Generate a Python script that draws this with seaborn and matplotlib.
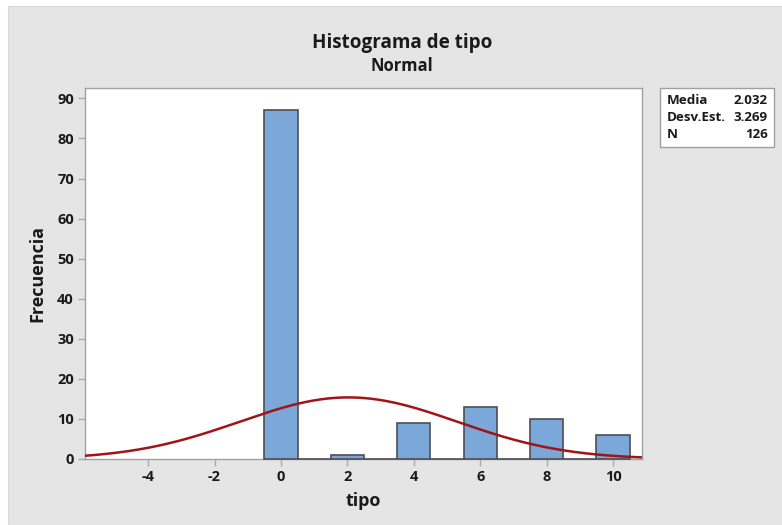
import numpy as np
import pandas as pd
import seaborn as sns
import matplotlib
matplotlib.use("Agg")
import matplotlib.pyplot as plt
from matplotlib.patches import Rectangle

# Observed values of "tipo" and how many times each occurs
tipo_values = [0, 2, 4, 6, 8, 10]
tipo_counts = [87, 1, 9, 13, 10, 6]

x_ticks = [-4, -2, 0, 2, 4, 6, 8, 10]
y_ticks = [0, 10, 20, 30, 40, 50, 60, 70, 80, 90]

sns.set_theme(style="white")
plt.rcParams["font.family"] = ["Open Sans", "DejaVu Sans"]

df = pd.DataFrame({"tipo": np.repeat(tipo_values, tipo_counts)})
n = len(df)
mean = df["tipo"].mean()
sd = df["tipo"].std(ddof=1)

fig = plt.figure(figsize=(7.82, 5.25), dpi=100, facecolor="white")
fig.patches.append(Rectangle((8 / 782, 0), 1, 1 - 6 / 525, transform=fig.transFigure,
                             facecolor="#e5e5e5", edgecolor="#d8d8d8", lw=0.8, zorder=-10))

ax = fig.add_axes([85 / 782, 1 - 459 / 525, (642 - 85) / 782, (459 - 88) / 525])
ax.set_facecolor("white")

sns.histplot(data=df, x="tipo", binwidth=1, binrange=(-0.5, 10.5), ax=ax,
             color="#7ba7d9", alpha=1, edgecolor="#4d4d55", linewidth=1.2)
for p in ax.patches:
    p.set_zorder(3)
    p.set_clip_on(False)

# Fitted normal curve scaled to counts (bin width 1)
xs = np.linspace(-6, 11, 400)
ys = n * 1.0 * np.exp(-0.5 * ((xs - mean) / sd) ** 2) / (sd * np.sqrt(2 * np.pi))
ax.plot(xs, ys, color="#a01418", lw=1.8, zorder=4)

ax.set_xlim(-5.9, 10.87)
ax.set_ylim(0, 92.6)
ax.set_xticks(x_ticks)
ax.set_xticklabels([str(t) for t in x_ticks])
ax.set_yticks(y_ticks)
ax.tick_params(axis="both", which="both", direction="out", length=5, width=1,
               color="#aaaaaa", labelsize=10.5, pad=3, bottom=True, left=True)
for lab in ax.get_xticklabels() + ax.get_yticklabels():
    lab.set_fontweight("bold")
    lab.set_color("#1a1a1a")
for s in ax.spines.values():
    s.set_color("#a0a0a0")
    s.set_linewidth(1)

ax.set_xlabel("tipo", fontsize=13, fontweight="bold", color="#1a1a1a", labelpad=6)
ax.set_ylabel("Frecuencia", fontsize=13, fontweight="bold", color="#1a1a1a", labelpad=8)

fig.text(402 / 782, 1 - 43 / 525, "Histograma de tipo", ha="center", va="center",
         fontsize=13.6, fontweight="bold", color="#1a1a1a")
fig.text(402 / 782, 1 - 66 / 525, "Normal", ha="center", va="center",
         fontsize=12, fontweight="bold", color="#1a1a1a")

# Summary statistics box
fig.patches.append(Rectangle((660 / 782, 1 - 147 / 525), (774 - 660) / 782, (147 - 88) / 525,
                             transform=fig.transFigure, facecolor="white",
                             edgecolor="#a0a0a0", lw=1, zorder=5))
rows = [("Media", f"{mean:.3f}"), ("Desv.Est.", f"{sd:.3f}"), ("N", f"{n}")]
for i, (k, v) in enumerate(rows):
    yy = 1 - (100 + i * 17.5) / 525
    fig.text(667 / 782, yy, k, ha="left", va="center", fontsize=9.6,
             fontweight="bold", color="#1a1a1a", zorder=6)
    fig.text(768 / 782, yy, v, ha="right", va="center", fontsize=9.6,
             fontweight="bold", color="#1a1a1a", zorder=6)

fig.savefig("out.png", dpi=100, facecolor=fig.get_facecolor())
